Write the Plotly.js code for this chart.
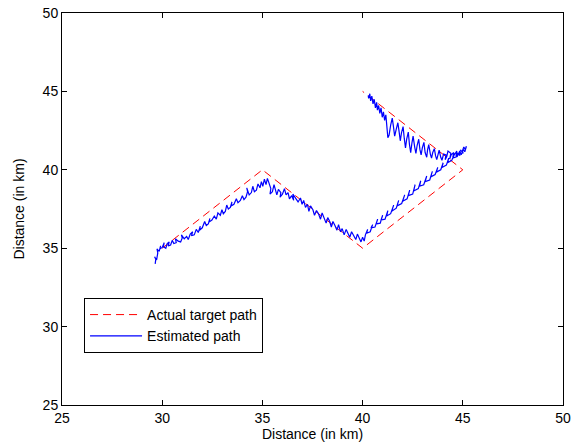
<!DOCTYPE html>
<html>
<head>
<meta charset="utf-8">
<script src="https://cdn.plot.ly/plotly-3.0.1.min.js"></script>
<style>html,body{margin:0;padding:0;background:#fff;}#chart{width:580px;height:445px;}</style>
</head>
<body>
<div id="chart"></div>
<script>
// Actual target path (red dashed)
const targetX = [30, 35, 40, 45, 40];
const targetY = [35, 40, 35, 40, 45];

// Estimated path (blue), in four legs: [x, y]
const estLeg1 = [
[29.65,34.00],[29.68,34.30],[29.62,34.45],[29.72,34.25],[29.78,34.70],[29.74,34.95],[29.85,34.80],[29.92,35.15],
[29.88,34.95],[30.00,35.05],[30.10,35.35],[30.06,35.10],[30.18,35.00],[30.25,35.30],[30.35,35.40],[30.30,35.15],
[30.42,35.20],[30.50,35.50],[30.58,35.30],[30.70,35.35],[30.66,35.60],[30.80,35.45],[30.92,35.40],[31.00,35.65],
[30.96,35.85],[31.10,35.60],[31.22,35.75],[31.30,35.55],[31.40,35.90],[31.52,36.05],[31.46,35.80],[31.60,35.85],
[31.70,36.20],[31.80,36.00],[31.90,36.40],[31.86,36.15],[32.00,36.30],[32.12,36.70],[32.20,36.45],[32.30,36.55],
[32.38,36.90],[32.32,36.65],[32.48,36.80],[32.60,37.05],[32.70,36.85],[32.78,37.25],[32.90,37.10],[32.98,37.45],
[33.05,37.20],[33.15,37.35],[33.22,37.75],[33.30,37.50],[33.40,37.60],[33.48,37.95],[33.44,37.70],[33.58,37.80],
[33.70,38.15],[33.78,37.90],[33.90,38.05],[34.00,38.35],[34.08,38.10],[34.18,38.25],[34.26,38.60],[34.22,38.85],
[34.34,38.40],[34.45,38.55],[34.52,38.95],[34.60,38.60],[34.70,38.70],[34.78,39.10],[34.88,38.85],[34.95,39.25],
[35.02,38.95],[35.10,39.40],[35.18,39.05],[35.25,39.45],[35.32,39.15]
];
const estLeg2 = [
[35.42,38.80],[35.38,38.45],[35.50,38.60],[35.58,39.05],[35.65,38.70],[35.72,38.40],[35.80,38.75],[35.92,38.55],
[35.88,38.25],[36.00,38.45],[36.10,38.80],[36.18,38.40],[36.28,38.55],[36.35,38.15],[36.46,38.35],[36.56,38.05],
[36.52,38.45],[36.66,38.20],[36.78,37.95],[36.90,38.20],[36.98,37.80],[37.06,38.05],[37.15,37.60],[37.25,37.80],
[37.32,37.35],[37.40,37.70],[37.52,37.45],[37.60,37.10],[37.70,37.40],[37.80,37.20],[37.90,36.85],[37.98,37.25],
[38.08,36.95],[38.18,36.60],[38.26,36.95],[38.36,36.70],[38.44,36.35],[38.52,36.70],[38.62,36.45],[38.72,36.15],
[38.80,36.50],[38.90,36.05],[38.98,36.25],[39.08,35.85],[39.18,36.20],[39.28,35.95],[39.36,35.70],[39.45,36.05],
[39.56,35.80],[39.66,35.55],[39.74,35.90],[39.84,35.65],[39.92,35.40],[40.00,35.70],[40.08,35.45]
];
const estLeg3 = [
[40.14,35.85],[40.25,36.20],[40.20,35.95],[40.38,36.05],[40.50,36.50],[40.42,36.30],[40.62,36.35],[40.75,36.85],
[40.68,36.55],[40.88,36.60],[41.00,37.10],[40.92,36.80],[41.12,36.85],[41.26,37.40],[41.20,37.05],[41.40,37.20],
[41.55,37.75],[41.45,37.35],[41.68,37.55],[41.80,38.05],[41.72,37.70],[41.95,37.85],[42.10,38.40],[42.00,38.00],
[42.22,38.15],[42.35,38.70],[42.28,38.35],[42.50,38.45],[42.62,39.05],[42.55,38.65],[42.78,38.80],[42.90,39.30],
[42.84,38.95],[43.05,39.05],[43.20,39.60],[43.12,39.25],[43.35,39.35],[43.48,39.90],[43.40,39.55],[43.62,39.70],
[43.75,40.15],[43.68,39.85],[43.90,40.00],[44.02,40.45],[43.96,40.15],[44.18,40.30],[44.30,40.75],[44.24,40.45],
[44.45,40.60],[44.58,41.05],[44.52,40.75],[44.72,40.85],[44.85,41.20],[44.92,40.95],[45.02,41.30],[45.10,41.15],
[45.18,41.50]
];
const estLeg4 = [
[45.12,41.30],[45.05,41.45],[44.98,41.20],[45.02,41.05],[44.90,41.25],[44.82,41.10],[44.86,40.90],[44.74,41.05],
[44.66,40.85],[44.70,41.20],[44.58,41.00],[44.50,40.80],[44.55,41.10],[44.42,40.95],[44.35,40.70],[44.40,41.05],
[44.26,41.20],[44.20,40.85],[44.12,40.65],[44.16,40.95],[44.04,41.00],[43.96,40.60],[43.90,40.80],[43.82,41.25],
[43.76,40.95],[43.70,40.65],[43.64,40.90],[43.58,41.35],[43.50,41.10],[43.44,40.75],[43.38,41.00],[43.30,41.60],
[43.24,41.25],[43.20,40.80],[43.12,41.10],[43.06,41.75],[42.98,41.40],[42.92,40.95],[42.86,41.30],[42.80,41.95],
[42.72,41.55],[42.66,41.05],[42.60,41.45],[42.52,42.15],[42.46,41.70],[42.40,41.10],[42.34,41.60],[42.28,42.40],
[42.20,41.95],[42.14,41.40],[42.08,42.00],[42.02,42.75],[41.94,42.35],[41.88,41.85],[41.82,42.45],[41.76,43.00],
[41.68,42.60],[41.60,42.15],[41.54,42.75],[41.48,43.30],[41.40,42.85],[41.32,42.20],[41.26,42.05],[41.22,42.70],
[41.16,43.50],[41.10,43.15],[41.04,43.70],[40.98,43.35],[40.92,43.95],[40.86,43.60],[40.80,44.10],[40.74,43.80],
[40.70,44.30],[40.64,43.95],[40.58,44.50],[40.52,44.20],[40.46,44.70],[40.40,44.40],[40.36,44.85],[40.30,44.55],
[40.28,44.75]
];

const estPts = estLeg1.concat(estLeg2, estLeg3, estLeg4);
const estX = estPts.map(p => p[0]);
const estY = estPts.map(p => p[1]);

const FONT = 'Liberation Sans, Arial, Helvetica, sans-serif';

const data = [
  {x: targetX, y: targetY, mode: 'lines', name: 'Actual target path',
   line: {color: '#ff0000', width: 1, dash: '8px,5px'}},
  {x: estX, y: estY, mode: 'lines', name: 'Estimated path',
   line: {color: '#0000ff', width: 1.2}}
];

const axisCommon = {
  range: [25, 50], tickvals: [25, 30, 35, 40, 45, 50], ticktext: ['25','30','35','40','45','50'],
  ticks: 'inside', ticklen: 5, tickwidth: 1, tickcolor: '#000',
  showline: true, linecolor: '#000', linewidth: 1, mirror: 'ticks',
  showgrid: false, zeroline: false,
  tickfont: {family: FONT, size: 14, color: '#000'}
};

const layout = {
  width: 580, height: 445,
  margin: {l: 62, r: 17, t: 13, b: 40},
  paper_bgcolor: '#fff', plot_bgcolor: '#fff',
  font: {family: FONT, size: 14, color: '#000'},
  xaxis: Object.assign({}, axisCommon, {
    title: {text: 'Distance (in km)', standoff: 3, font: {family: FONT, size: 14}}
  }),
  yaxis: Object.assign({}, axisCommon, {
    title: {text: 'Distance (in km)', standoff: 14, font: {family: FONT, size: 14}}
  }),
  showlegend: true,
  legend: {
    x: 0.044, y: 0.273, xanchor: 'left', yanchor: 'top',
    bordercolor: '#000', borderwidth: 1, bgcolor: '#fff',
    font: {family: FONT, size: 14}, itemwidth: 52, tracegroupgap: 0
  }
};

Plotly.newPlot('chart', data, layout, {displayModeBar: false, staticPlot: true});
</script>
</body>
</html>
